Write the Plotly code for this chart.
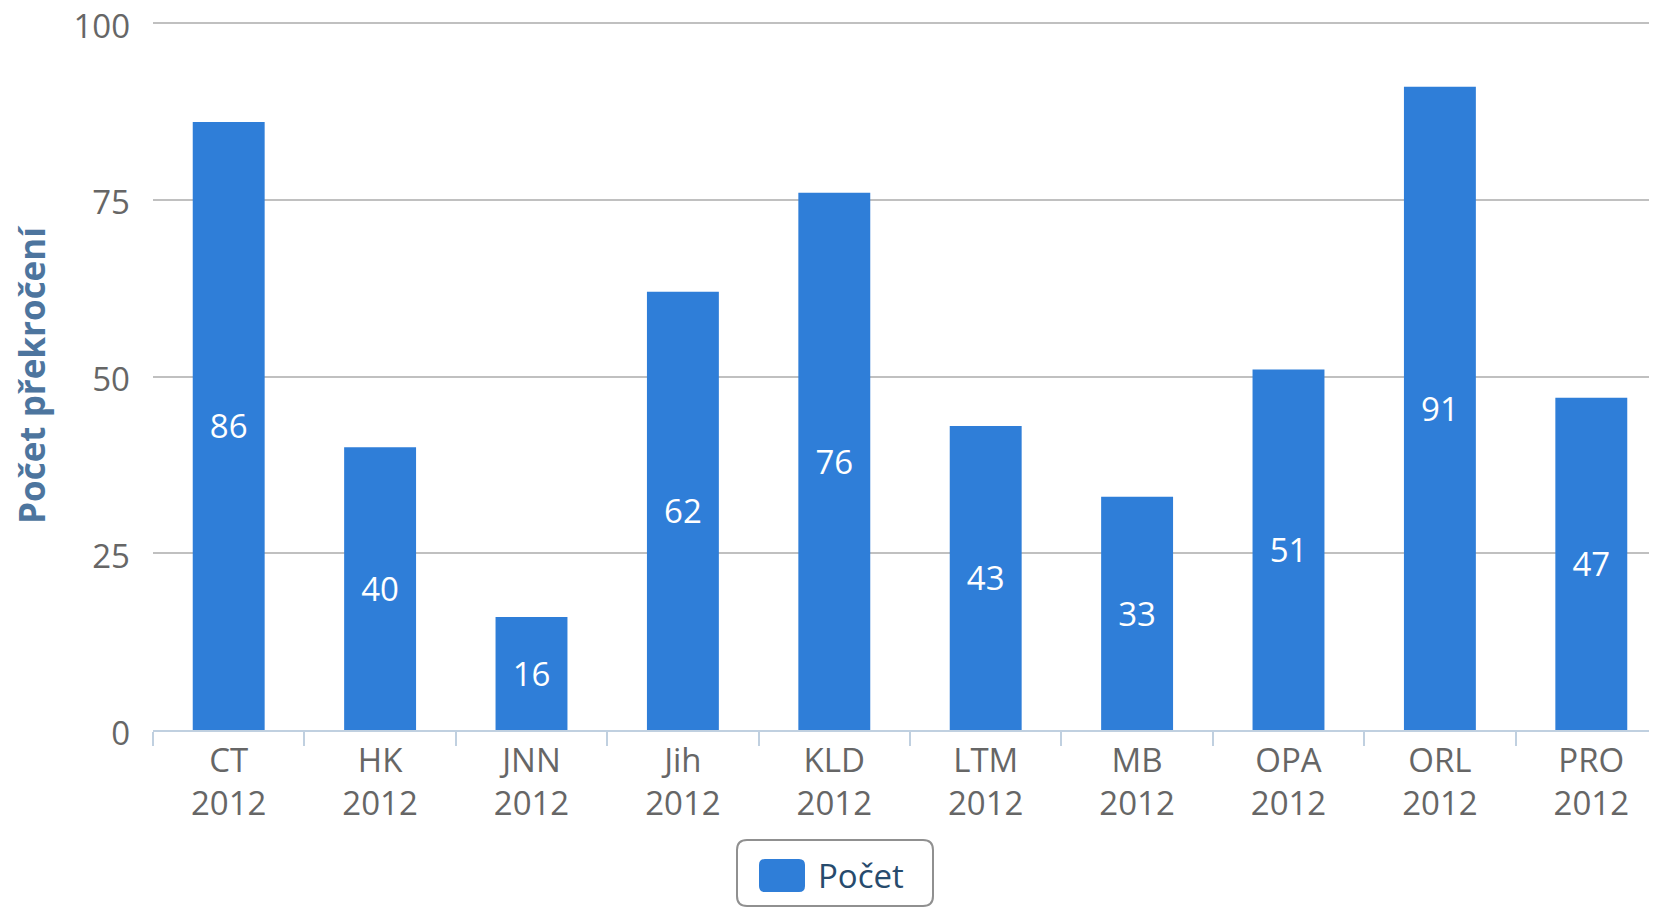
import plotly.graph_objects as go

categories = ["CT", "HK", "JNN", "Jih", "KLD", "LTM", "MB", "OPA", "ORL", "PRO"]
year = "2012"
values = [86, 40, 16, 62, 76, 43, 33, 51, 91, 47]
series_name = "Počet"
y_title = "Počet překročení"
y_ticks = [0, 25, 50, 75, 100]
y_max = 100

# page body adds an 8px offset; figure coordinates are screen coordinates minus 8
OFF = 8
W, H = 1657, 908
Y0 = 730 - OFF          # pixel of value 0
PX_PER_UNIT = 7.07      # vertical pixels per unit
Y_TOP_PAD = 0.3         # small headroom so the top gridline is drawn
L = 153 - OFF
T = round(Y0 - (y_max + Y_TOP_PAD) * PX_PER_UNIT)
R, B = 0, H - Y0
pw, ph = W - L - R, H - T - B

def px_x(p):
    return (p - OFF - L) / pw

def px_y(p):
    return (Y0 - (p - OFF)) / ph

bar_color = "#2F7ED8"
font_family = "Open Sans, Noto Sans, sans-serif"

xlabels = [f"{c}<br>{year}" for c in categories]

fig = go.Figure()
fig.add_trace(go.Bar(
    x=xlabels, y=values, name=series_name, showlegend=False,
    marker=dict(color=bar_color, line=dict(width=0)),
    text=[str(v) for v in values], textposition="inside",
    insidetextanchor="middle", textangle=0, constraintext="none",
    textfont=dict(color="white", size=33, family=font_family),
    hoverinfo="x+y",
))
# legend entry (symbol drawn as a shape for size fidelity)
fig.add_trace(go.Scatter(
    x=[None], y=[None], mode="markers", name=series_name,
    marker=dict(color="rgba(0,0,0,0)", size=1), showlegend=True,
))

cat_step = 151.4
rng_right = -0.5 + pw / cat_step
y_top = ph / PX_PER_UNIT

def rounded(x0, y0, x1, y1, r):
    rx, ry = r / pw, r / ph
    X0, X1 = px_x(x0), px_x(x1)
    Yt, Yb = px_y(y0), px_y(y1)
    return (f"M {X0+rx},{Yt} L {X1-rx},{Yt} Q {X1},{Yt} {X1},{Yt-ry} "
            f"L {X1},{Yb+ry} Q {X1},{Yb} {X1-rx},{Yb} "
            f"L {X0+rx},{Yb} Q {X0},{Yb} {X0},{Yb+ry} "
            f"L {X0},{Yt-ry} Q {X0},{Yt} {X0+rx},{Yt} Z")

shapes = [
    dict(type="path", xref="paper", yref="paper", path=rounded(737, 840, 933, 906, 10),
         line=dict(color="#909090", width=2), fillcolor="rgba(0,0,0,0)", layer="above"),
    dict(type="path", xref="paper", yref="paper", path=rounded(759, 859, 805, 892, 6),
         line=dict(width=0), fillcolor=bar_color, layer="above"),
]

fig.update_layout(
    width=W, height=H, autosize=False,
    margin=dict(l=L, r=R, t=T, b=B, pad=0, autoexpand=False),
    paper_bgcolor="white", plot_bgcolor="white",
    font=dict(family=font_family, size=33, color="#666666"),
    bargap=0.525,
    showlegend=True,
    legend=dict(orientation="h", x=px_x(778), xanchor="left", y=px_y(875), yanchor="middle",
                bgcolor="rgba(0,0,0,0)", borderwidth=0,
                font=dict(size=33, color="#274b6d", family=font_family)),
    shapes=shapes,
    xaxis=dict(range=[-0.5, rng_right], showgrid=False, showline=True, linecolor="#C0D0E0",
               linewidth=2, ticks="outside", tickson="boundaries", ticklen=14,
               tickcolor="#C0D0E0", tickwidth=2, tickfont=dict(size=33, color="#666666"),
               zeroline=False, fixedrange=True, automargin=False),
    yaxis=dict(range=[0, y_top], tickvals=y_ticks, showgrid=True, gridcolor="#C0C0C0",
               gridwidth=2, zeroline=False, showline=False, ticks="",
               ticklabelstandoff=22, ticklabeloverflow="allow", ticklabelshift=3,
               automargin=False,
               tickfont=dict(size=33, color="#666666"),
               title=dict(text=f"<b>{y_title}</b>", standoff=22,
                          font=dict(size=35, color="#4d759e", family=font_family)),
               fixedrange=True),
)

fig.write_html("out.html")
